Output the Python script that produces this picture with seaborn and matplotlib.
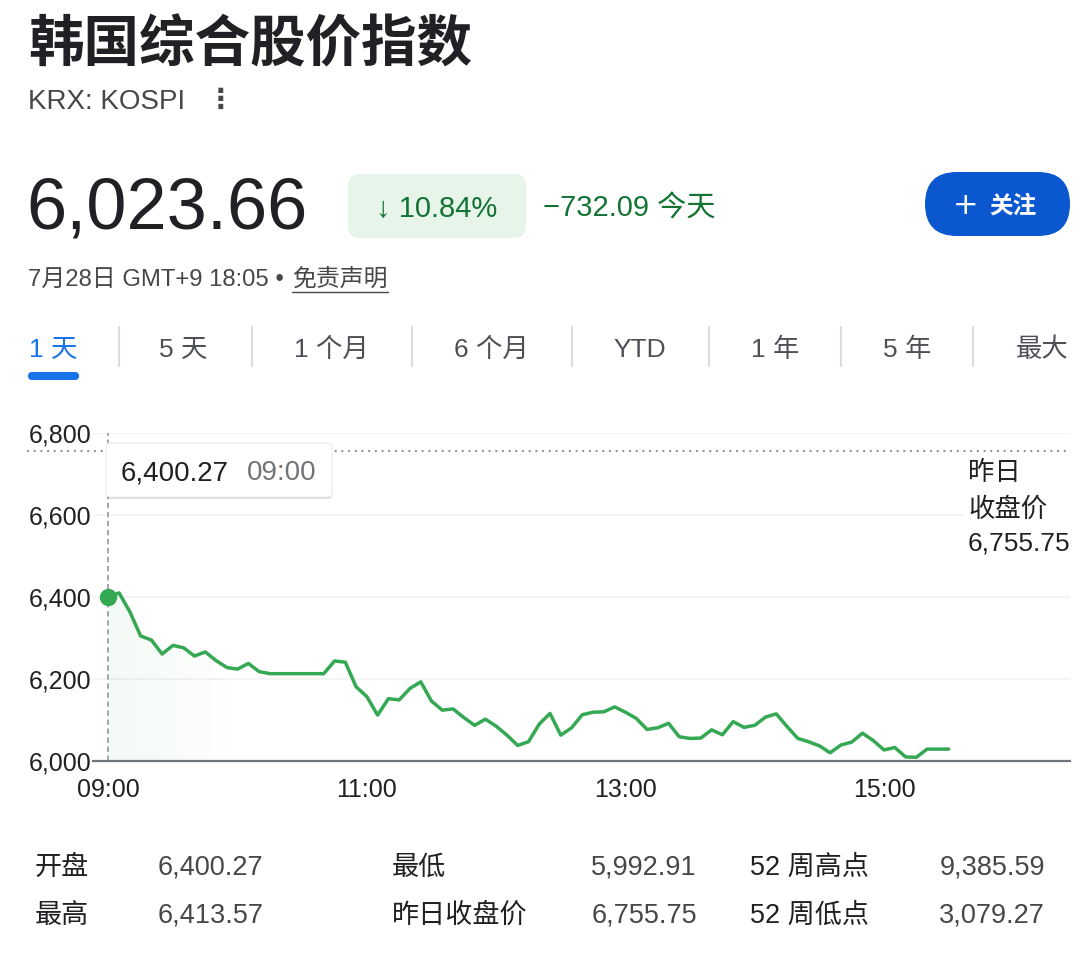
import numpy as np
import pandas as pd
import matplotlib
matplotlib.use("Agg")
import matplotlib.pyplot as plt
import matplotlib.transforms as mtransforms
from matplotlib.patches import FancyBboxPatch, Rectangle
from matplotlib.lines import Line2D
import seaborn as sns

# ---------------------------------------------------------------------------
# Data (5-minute closes, 09:00 -> 15:30)
# ---------------------------------------------------------------------------
minutes = list(range(0, 395, 5))
prices = [
    6400.27, 6410, 6364, 6305, 6295, 6261, 6282, 6276, 6256, 6266,
    6245, 6228, 6224, 6238, 6218, 6213, 6213, 6213, 6213, 6213,
    6213, 6244, 6241, 6181, 6157, 6112, 6152, 6149, 6177, 6193,
    6146, 6124, 6127, 6106, 6087, 6102, 6085, 6063, 6038, 6047,
    6090, 6116, 6063, 6081, 6113, 6119, 6120, 6132, 6119, 6104,
    6077, 6081, 6092, 6059, 6055, 6056, 6076, 6064, 6096, 6082,
    6087, 6107, 6115, 6084, 6055, 6047, 6037, 6020, 6039, 6046,
    6068, 6050, 6027, 6033, 6010, 6009, 6029, 6029, 6029,
]
prev_close = 6755.75
y_ticks = [6000, 6200, 6400, 6600, 6800]
x_ticks = [0, 120, 240, 360]
x_tick_labels = ["09:00", "11:00", "13:00", "15:00"]

tabs = ["1 天", "5 天", "1 个月", "6 个月", "YTD", "1 年", "5 年", "最大"]
stat_labels_1 = ["开盘", "最高"]
stat_values_1 = ["6,400.27", "6,413.57"]
stat_labels_2 = ["最低", "昨日收盘价"]
stat_values_2 = ["5,992.91", "6,755.75"]
stat_labels_3 = ["52 周高点", "52 周低点"]
stat_values_3 = ["9,385.59", "3,079.27"]

# ---------------------------------------------------------------------------
# Style
# ---------------------------------------------------------------------------
sns.set_theme(style="white")
FONTS = ["Liberation Sans", "Noto Sans CJK SC", "DejaVu Sans"]
plt.rcParams["font.family"] = FONTS

GREEN_LINE = "#34a853"
GREEN_TXT  = "#137333"
DARK       = "#202124"
GREY_TXT   = "#474747"
AXIS_GREY  = "#70757a"

W, H = 1082, 972
fig = plt.figure(figsize=(W / 100, H / 100), dpi=100)
fig.patch.set_facecolor("white")

# pixel coords, origin top-left
PX = mtransforms.Affine2D().scale(1 / 100, -1 / 100).translate(0, H / 100) + fig.dpi_scale_trans


def ftext(x, y, s, **kw):
    # small shift: matplotlib centres on the "lp" box, not on the ink
    kw.setdefault("va", "center")
    kw.setdefault("color", DARK)
    return fig.text(x, y + 3, s, transform=PX, **kw)


# ---------------------------------------------------------------------------
# Header
# ---------------------------------------------------------------------------
ftext(28, 42, "韩国综合股价指数", fontsize=40, fontweight="bold",
      family=["Noto Sans CJK SC", "DejaVu Sans"])
ftext(28, 99, "KRX: KOSPI", fontsize=20, color=GREY_TXT)
ftext(220, 97, "⋮", fontsize=20, color=GREY_TXT, ha="center",
      family=["DejaVu Sans"], fontweight="bold")

ftext(26, 207, "6,023.66", fontsize=52)

pill = FancyBboxPatch((348, 174), 178, 64, boxstyle="round,pad=0,rounding_size=12",
                      transform=PX, facecolor="#e6f4ea", edgecolor="none")
fig.add_artist(pill)
ftext(437, 206, "↓ 10.84%", fontsize=21, color=GREEN_TXT, ha="center")
ftext(543, 206, "−732.09 今天", fontsize=21, color=GREEN_TXT)

btn = FancyBboxPatch((925, 172), 145, 64, boxstyle="round,pad=0,rounding_size=32",
                     transform=PX, facecolor="#0b57d0", edgecolor="none")
fig.add_artist(btn)
ftext(966, 202, "+", fontsize=22, color="white", ha="center",
      family=["DejaVu Sans"])
ftext(1013, 203, "关注", fontsize=17, color="white", ha="center", fontweight="bold")

ftext(28, 277, "7月28日 GMT+9 18:05 •", fontsize=17.2, color=GREY_TXT)
ftext(292, 277, "免责声明", fontsize=17.2, color=GREY_TXT)
fig.add_artist(Line2D([292, 388], [292, 292], transform=PX, color=GREY_TXT, lw=1))

# tabs
tab_centers = [53, 183, 331, 491, 640, 775, 907, 1042]
for cx, lab in zip(tab_centers, tabs):
    col = "#1a73e8" if lab == tabs[0] else "#4d5156"
    ftext(cx, 347, lab, fontsize=19, color=col, ha="center")
for sx in [119, 252, 412, 572, 709, 841, 973]:
    fig.add_artist(Line2D([sx, sx], [327, 366], transform=PX, color="#dadce0", lw=1.5))
bar = FancyBboxPatch((28, 372), 51, 8, boxstyle="round,pad=0,rounding_size=4",
                     transform=PX, facecolor="#1a73e8", edgecolor="none")
fig.add_artist(bar)

# ---------------------------------------------------------------------------
# Chart
# ---------------------------------------------------------------------------
ax_l, ax_r, ax_t, ax_b = 93, 1070, 433, 761
ax = fig.add_axes([ax_l / W, 1 - ax_b / H, (ax_r - ax_l) / W, (ax_b - ax_t) / H])
ax.set_facecolor("none")

df = pd.DataFrame({"minute": minutes, "price": prices})

px_per_min = (884 - 108.3) / 360
ax.set_xlim(-(108.3 - ax_l) / px_per_min, (ax_r - 108.3) / px_per_min)
ax.set_ylim(6000, 6800)

# faint gradient under the start of the line
poly = ax.fill_between(df["minute"], df["price"], 6000, facecolor="none", edgecolor="none")
grad = np.zeros((2, 256, 4))
grad[..., :3] = matplotlib.colors.to_rgb(GREEN_LINE)
grad[..., 3] = np.linspace(0.06, 0.0, 256)[None, :]
im = ax.imshow(grad, extent=[0, 60, 6000, 6420], aspect="auto", zorder=1)
im.set_clip_path(poly.get_paths()[0], transform=ax.transData)

sns.lineplot(data=df, x="minute", y="price", ax=ax, color=GREEN_LINE,
             linewidth=2.5, zorder=3)
ax.plot([df["minute"].iloc[0]], [df["price"].iloc[0]], "o", color=GREEN_LINE,
        markersize=11.5, zorder=4, clip_on=False)

# hover guide and previous-close line
ax.axvline(0, color="#9aa0a6", lw=1.3, ls=(0, (3, 2)), zorder=2)
ax.plot([-0.0665, 1], [prev_close, prev_close], transform=ax.get_yaxis_transform(),
        color="#80868b", lw=1.6, ls=(0, (0.01, 3.0)), dash_capstyle="round",
        clip_on=False, zorder=2)

ax.set_yticks(y_ticks)
ax.set_yticklabels([f"{v:,}" for v in y_ticks])
ax.set_xticks(x_ticks)
ax.set_xticklabels(x_tick_labels)
ax.yaxis.grid(True, color="#f1f3f4", lw=1.3)
ax.xaxis.grid(False)
ax.set_xlabel("")
ax.set_ylabel("")
for side in ["top", "right", "left"]:
    ax.spines[side].set_visible(False)
ax.spines["bottom"].set_color(AXIS_GREY)
ax.spines["bottom"].set_linewidth(1.6)
ax.spines["bottom"].set_zorder(5)
ax.tick_params(axis="y", length=0, pad=1, labelsize=18, labelcolor=DARK)
ax.tick_params(axis="x", length=5, width=1.5, color=AXIS_GREY, pad=7,
               labelsize=18, labelcolor=DARK)

# tooltip
shadow = FancyBboxPatch((106, 445), 226, 54, boxstyle="round,pad=0,rounding_size=4",
                        transform=PX, facecolor="#000000", alpha=0.12, edgecolor="none")
fig.add_artist(shadow)
tip = FancyBboxPatch((106, 443), 226, 54, boxstyle="round,pad=0,rounding_size=4",
                     transform=PX, facecolor="white", edgecolor="#e8eaed", lw=0.8)
fig.add_artist(tip)
ftext(121, 470, "6,400.27", fontsize=20)
ftext(247, 470, "09:00", fontsize=20, color="#70757a")

# previous close label (masks the grid behind it)
fig.add_artist(Rectangle((964, 458), 110, 100, transform=PX, facecolor="white",
                         edgecolor="none"))
ftext(968, 470, "昨日", fontsize=19)
ftext(968, 506, "收盘价", fontsize=19)
ftext(968, 541, f"{prev_close:,.2f}", fontsize=19)

# ---------------------------------------------------------------------------
# Stats table
# ---------------------------------------------------------------------------
for row_y, i in zip([865, 913], range(2)):
    ftext(35, row_y, stat_labels_1[i], fontsize=19.5)
    ftext(158, row_y, stat_values_1[i], fontsize=19.5, color=GREY_TXT)
    ftext(392, row_y, stat_labels_2[i], fontsize=19.5)
    ftext(697, row_y, stat_values_2[i], fontsize=19.5, color=GREY_TXT, ha="right")
    ftext(750, row_y, stat_labels_3[i], fontsize=19.5)
    ftext(1045, row_y, stat_values_3[i], fontsize=19.5, color=GREY_TXT, ha="right")

fig.savefig("out.png", dpi=100, facecolor="white")
